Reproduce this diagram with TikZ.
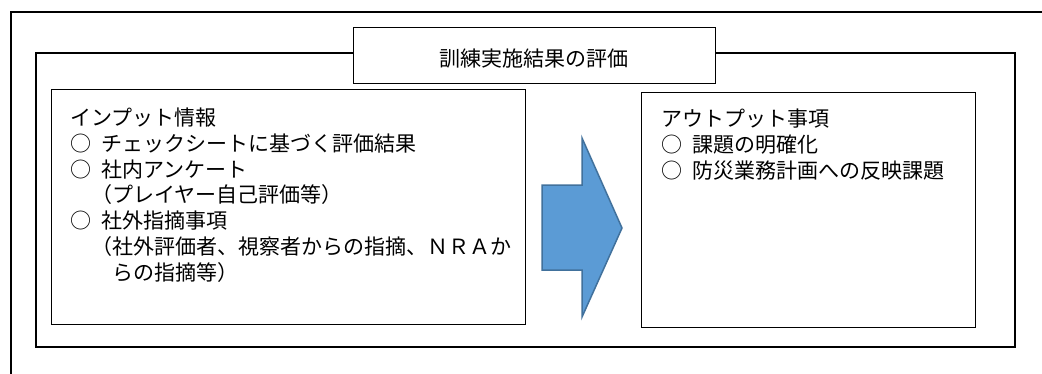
\documentclass[tikz,border=0pt]{standalone}
\usepackage{fontspec}
\newfontfamily\jp{Noto Sans CJK JP}
\definecolor{arrowfill}{HTML}{5B9BD5}
\definecolor{arrowline}{HTML}{41719C}
\begin{document}
\begin{tikzpicture}[x=1pt,y=-1pt,
  thinbox/.style={draw=black,line width=1pt,fill=white,inner sep=0pt,rectangle},
  thickbox/.style={draw=black,line width=2pt,inner sep=0pt,rectangle},
  txt/.style={anchor=base west,inner sep=0pt,font=\jp\fontsize{21}{25}\selectfont},
  ttl/.style={anchor=base,inner sep=0pt,font=\jp\fontsize{21}{25}\selectfont}]
\useasboundingbox (0,0) rectangle (1042,373);
\fill[white] (0,0) rectangle (1042,373);
\begin{scope}
\clip (0,0) rectangle (1042,373);
\draw[line width=2pt] (11,12) rectangle (1080,420);
\end{scope}
% frame
\node[thickbox,minimum width=979pt,minimum height=294pt] (frame) at (525.5,200) {};
% title box
\node[thinbox,minimum width=362pt,minimum height=56pt] (titlebox) at (534,55) {};
\node[ttl] (title) at (534,66) {訓練実施結果の評価};
% input box
\node[thinbox,minimum width=474pt,minimum height=235pt] (inbox) at (288,206.5) {};
\node[txt] (in1) at (70,125) {インプット情報};
\node[txt] (in2) at (70,151) {○\hspace{0.5em}チェックシートに基づく評価結果};
\node[txt] (in3) at (70,177) {○\hspace{0.5em}社内アンケート};
\node[txt] (in4) at (70,202) {　（プレイヤー自己評価等）};
\node[txt] (in5) at (70,228) {○\hspace{0.5em}社外指摘事項};
\node[txt] (in6) at (70,254) {　（社外評価者、視察者からの指摘、ＮＲＡか};
\node[txt] (in7) at (70,280) {　　らの指摘等）};
% output box
\node[thinbox,minimum width=334pt,minimum height=235pt] (outbox) at (808,209.5) {};
\node[txt] (out1) at (661,126) {アウトプット事項};
\node[txt] (out2) at (661,152) {○\hspace{0.5em}課題の明確化};
\node[txt] (out3) at (661,178) {○\hspace{0.5em}防災業務計画への反映課題};
% arrow
\draw[fill=arrowfill,draw=arrowline,line width=1.5pt,line join=miter]
  (542,185) -- (582,185) -- (582,138) -- (622,228) -- (582,317) -- (582,270) -- (542,270) -- cycle;
\end{tikzpicture}
\end{document}
